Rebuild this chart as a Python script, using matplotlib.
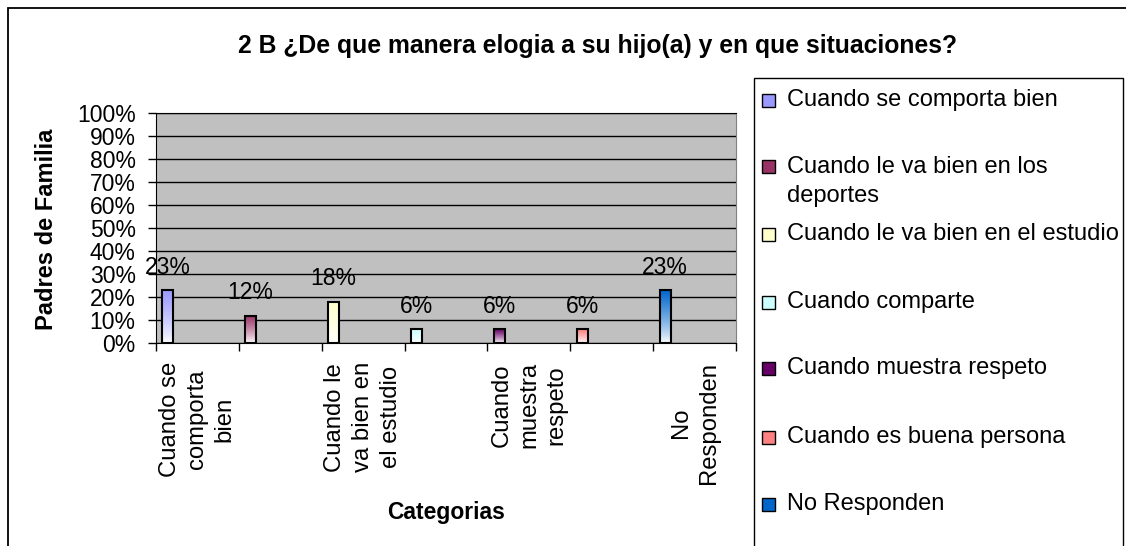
import matplotlib
matplotlib.use("Agg")
import matplotlib.pyplot as plt
import numpy as np
from matplotlib.colors import LinearSegmentedColormap
from matplotlib.patches import Rectangle

plt.rcParams['font.family'] = ['Liberation Sans', 'DejaVu Sans']

# datos del grafico
categorias = ["Cuando se comporta bien",
              "Cuando le va bien en los\ndeportes",
              "Cuando le va bien en el estudio",
              "Cuando comparte",
              "Cuando muestra respeto",
              "Cuando es buena persona",
              "No Responden"]
valores = [0.23, 0.12, 0.18, 0.06, 0.06, 0.06, 0.23]
colores = ["#9999FF", "#993366", "#FFFFCC", "#CCFFFF", "#660066", "#FF8080", "#0066CC"]
etiquetas_x = ["Cuando se\ncomporta\nbien", "", "Cuando le\nva bien en\nel estudio", "",
               "Cuando\nmuestra\nrespeto", "", "No\nResponden"]
titulo = "2 B ¿De que manera elogia a su hijo(a) y en que situaciones?"

W, H = 1126, 546
fig = plt.figure(figsize=(W / 100, H / 100), dpi=100)


def fx(px):
    return px / W


def fy(py):
    return 1 - py / H


# borde exterior del grafico
fig.add_artist(Rectangle((fx(8), fy(700)), fx(1300), fy(8) - fy(700), transform=fig.transFigure,
                         fill=False, ec="black", lw=1.3, clip_on=False))

ax = fig.add_axes([fx(155.7), fy(343.3), fx(736.3) - fx(155.7), fy(113.3) - fy(343.3)])
ax.set_facecolor("#C0C0C0")

ancho = 0.127
for i, (v, c) in enumerate(zip(valores, colores)):
    x0 = i + 0.08
    cmap = LinearSegmentedColormap.from_list("g%d" % i, ["white", c])
    ax.imshow(np.linspace(0, 1, 100).reshape(-1, 1) ** 0.8, extent=[x0, x0 + ancho, 0, v], origin="lower",
              cmap=cmap, aspect="auto", zorder=3)
    ax.add_patch(Rectangle((x0, 0), ancho, v, fill=False, ec="black", lw=1.5, zorder=4))
    ax.annotate("%d%%" % round(v * 100), (x0 + ancho / 2, v), xytext=(0, 16.6), textcoords="offset points",
                ha="center", va="center", fontsize=16.5, zorder=5)

ax.set_xlim(0, 7)
ax.set_ylim(0, 1)
ax.set_yticks(np.arange(0, 1.01, 0.1))
ax.set_yticklabels(["%d%%" % round(t * 100) for t in np.arange(0, 1.01, 0.1)])
ax.set_xticks(range(8))
ax.set_xticklabels([])
ax.yaxis.grid(True, color="black", lw=1)
ax.set_axisbelow(True)
ax.tick_params(direction="out", length=6, width=1, labelsize=16.5, pad=8.4)
ax.spines["right"].set_color("#808080")
ax.spines["top"].set_color("black")

for i, lbl in enumerate(etiquetas_x):
    if lbl:
        ax.annotate(lbl, (i + 0.5, 0), xycoords=("data", "axes fraction"), xytext=(0, -13.5),
                    textcoords="offset points", rotation=90, ha="center", va="top",
                    multialignment="center", fontsize=17.2, linespacing=1.33)

fig.text(fx(598), fy(46), titulo, ha="center", va="center", fontsize=17.8, fontweight="bold")
fig.text(fx(47), fy(229), "Padres de Familia", rotation=90, ha="center", va="center",
         fontsize=17, fontweight="bold")
fig.text(fx(446), fy(513), "Categorias", ha="center", va="center", fontsize=16.5, fontweight="bold")

# leyenda
fig.add_artist(Rectangle((fx(754), fy(700)), fx(1122.7) - fx(754), fy(78.3) - fy(700),
                         transform=fig.transFigure, fill=False, ec="black", lw=1, clip_on=False))
ley_y = [100, 166, 234, 302, 368, 437, 504]
for lbl, c, y in zip(categorias, colores, ley_y):
    fig.add_artist(Rectangle((fx(762), fy(y + 6.5)), fx(13), fy(y - 6.5) - fy(y + 6.5),
                             transform=fig.transFigure, fc=c, ec="black", lw=1))
    if "\n" in lbl:
        fig.text(fx(787), fy(y - 10), lbl, ha="left", va="top", fontsize=17, linespacing=1.4)
    else:
        fig.text(fx(787), fy(y), lbl, ha="left", va="center", fontsize=17)

fig.savefig("out.png", dpi=100)
